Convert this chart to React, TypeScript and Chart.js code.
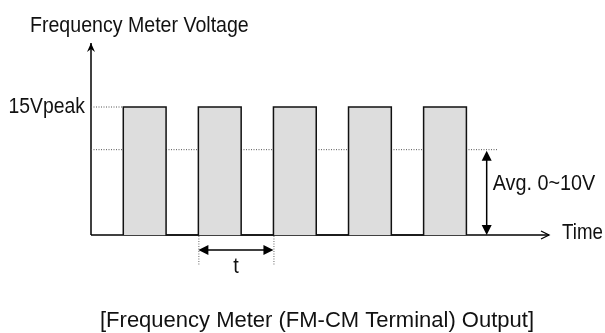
import React, { useEffect, useRef } from "react";
import { Chart, registerables } from "chart.js";

Chart.register(...registerables);

// ---- data ----
const pulseStart = [0.43, 1.43, 2.43, 3.43, 4.43];
const pulseEnd = [1, 2, 3, 4, 5];
const peakVoltage = 15;
const avgVoltage = 10;
const timeMax = 6.1;
const voltMax = 22.5;
const avgLineEnd = 5.41;
const avgArrowTime = 5.27;
const periodStart = 1.43;
const periodEnd = 2.43;

const titleText = "Frequency Meter Voltage";
const peakLabel = "15Vpeak";
const avgLabel = "Avg. 0~10V";
const timeLabel = "Time";
const periodLabel = "t";
const captionText = "[Frequency Meter (FM-CM Terminal) Output]";

const FONT = '"Liberation Sans", Arial, sans-serif';

function buildWave() {
  const pts: { x: number; y: number }[] = [];
  for (let i = 0; i < pulseStart.length; i++) {
    pts.push({ x: pulseStart[i], y: 0 });
    pts.push({ x: pulseStart[i], y: peakVoltage });
    pts.push({ x: pulseEnd[i], y: peakVoltage });
    pts.push({ x: pulseEnd[i], y: 0 });
  }
  return pts;
}

function tri(ctx: CanvasRenderingContext2D, a: number[], b: number[], c: number[]) {
  ctx.beginPath();
  ctx.moveTo(a[0], a[1]);
  ctx.lineTo(b[0], b[1]);
  ctx.lineTo(c[0], c[1]);
  ctx.closePath();
  ctx.fill();
}

function narrowText(
  ctx: CanvasRenderingContext2D,
  text: string,
  x: number,
  y: number,
  align: CanvasTextAlign,
  sx: number
) {
  ctx.save();
  ctx.translate(x, y);
  ctx.scale(sx, 1);
  ctx.textAlign = align;
  ctx.fillText(text, 0, 0);
  ctx.restore();
}

const annotations = {
  id: "annotations",
  afterDatasetsDraw(chart: any) {
    const ctx: CanvasRenderingContext2D = chart.ctx;
    const xs = chart.scales.x;
    const ys = chart.scales.y;
    const x0 = xs.getPixelForValue(0);
    const y0 = ys.getPixelForValue(0);
    const yTop = ys.getPixelForValue(voltMax);
    const xEnd = xs.getPixelForValue(timeMax);
    const yPeak = ys.getPixelForValue(peakVoltage);
    const yAvg = ys.getPixelForValue(avgVoltage);
    ctx.save();
    ctx.strokeStyle = "#000";
    ctx.fillStyle = "#000";
    ctx.lineWidth = 1.3;
    // y axis dart arrowhead
    ctx.beginPath();
    ctx.moveTo(x0, yTop);
    ctx.lineTo(x0 - 4, yTop + 9);
    ctx.lineTo(x0, yTop + 6);
    ctx.lineTo(x0 + 4, yTop + 9);
    ctx.closePath();
    ctx.fill();
    // x axis open arrowhead
    ctx.beginPath();
    ctx.moveTo(xEnd - 8, y0 - 4);
    ctx.lineTo(xEnd, y0);
    ctx.lineTo(xEnd - 8, y0 + 4);
    ctx.stroke();

    // average double arrow
    const xa = xs.getPixelForValue(avgArrowTime);
    ctx.lineWidth = 1.5;
    ctx.beginPath();
    ctx.moveTo(xa, yAvg + 8);
    ctx.lineTo(xa, y0 - 8);
    ctx.stroke();
    tri(ctx, [xa, yAvg + 1], [xa - 5, yAvg + 11], [xa + 5, yAvg + 11]);
    tri(ctx, [xa, y0], [xa - 5, y0 - 10], [xa + 5, y0 - 10]);

    // period marker
    const xp1 = xs.getPixelForValue(periodStart);
    const xp2 = xs.getPixelForValue(periodEnd);
    const yp = y0 + 15;
    ctx.save();
    ctx.strokeStyle = "#666";
    ctx.lineWidth = 1;
    ctx.setLineDash([1, 1.5]);
    ctx.beginPath();
    ctx.moveTo(xp1 + 0.5, y0 + 1);
    ctx.lineTo(xp1 + 0.5, y0 + 30);
    ctx.moveTo(xp2 + 0.5, y0 + 1);
    ctx.lineTo(xp2 + 0.5, y0 + 30);
    ctx.stroke();
    ctx.restore();
    ctx.lineWidth = 1.5;
    ctx.beginPath();
    ctx.moveTo(xp1 + 8, yp);
    ctx.lineTo(xp2 - 8, yp);
    ctx.stroke();
    tri(ctx, [xp1, yp], [xp1 + 10, yp - 5], [xp1 + 10, yp + 5]);
    tri(ctx, [xp2, yp], [xp2 - 10, yp - 5], [xp2 - 10, yp + 5]);

    // texts
    ctx.fillStyle = "#111";
    ctx.font = `22px ${FONT}`;
    ctx.textBaseline = "alphabetic";
    narrowText(ctx, titleText, 30, 32, "left", 0.89);
    narrowText(ctx, peakLabel, x0 - 6, yPeak + 6, "right", 0.88);
    narrowText(ctx, avgLabel, xa + 6, y0 - 45, "left", 0.9);
    narrowText(ctx, timeLabel, xEnd + 13, y0 + 4, "left", 0.85);
    narrowText(ctx, periodLabel, (xp1 + xp2) / 2, yp + 23, "center", 0.9);
    narrowText(ctx, captionText, 317, 327, "center", 1.0);
    ctx.restore();
  },
};

export default function App() {
  const ref = useRef<HTMLCanvasElement>(null);
  useEffect(() => {
    if (!ref.current) return;
    const chart = new Chart(ref.current, {
      type: "line",
      data: {
        datasets: [
          {
            data: buildWave(),
            borderColor: "#111",
            borderWidth: 1.5,
            backgroundColor: "#dddddd",
            fill: "origin",
            pointRadius: 0,
            tension: 0,
            clip: false,
          } as any,
          {
            data: [{ x: 0, y: peakVoltage }, { x: pulseStart[0], y: peakVoltage }],
            borderColor: "#555",
            borderWidth: 1,
            borderDash: [1, 1.5],
            pointRadius: 0,
            fill: false,
          },
          {
            data: [{ x: 0, y: avgVoltage }, { x: avgLineEnd, y: avgVoltage }],
            borderColor: "#555",
            borderWidth: 1,
            borderDash: [1, 1.5],
            pointRadius: 0,
            fill: false,
          },
          {
            data: [{ x: 0, y: 0 }, { x: 0, y: voltMax }],
            borderColor: "#000",
            borderWidth: 1.5,
            pointRadius: 0,
            fill: false,
            clip: false,
          } as any,
          {
            data: [{ x: 0, y: 0 }, { x: timeMax, y: 0 }],
            borderColor: "#000",
            borderWidth: 1.5,
            pointRadius: 0,
            fill: false,
            clip: false,
          } as any,
        ],
      },
      options: {
        animation: false,
        responsive: false,
        parsing: false,
        layout: { padding: { left: 91, right: 56, top: 43, bottom: 98 } },
        plugins: { legend: { display: false }, tooltip: { enabled: false }, title: { display: false } },
        scales: {
          x: { type: "linear", min: 0, max: timeMax, display: false },
          y: { type: "linear", min: 0, max: voltMax, display: false },
        },
      },
      plugins: [annotations],
    });
    return () => chart.destroy();
  }, []);
  return (
    <div style={{ position: "absolute", left: 0, top: 0, width: 605, height: 333, background: "#fff" }}>
      <canvas ref={ref} width={605} height={333} style={{ display: "block" }} />
    </div>
  );
}
